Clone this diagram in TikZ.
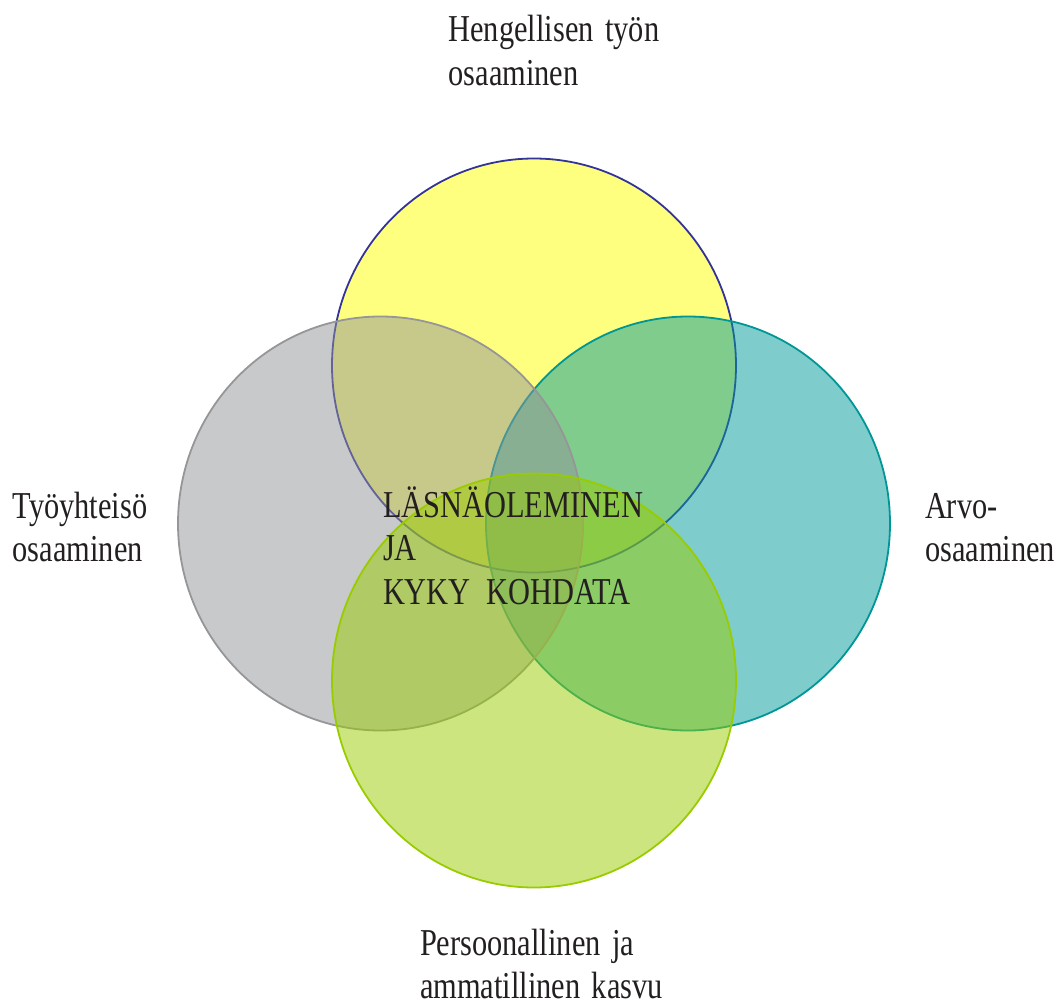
\documentclass[tikz,border=0pt]{standalone}
\usepackage{fontspec}
\setmainfont{Liberation Serif}[FakeStretch=0.8]
\usetikzlibrary{shapes.geometric}
\definecolor{txt}{RGB}{35,31,32}
\definecolor{fyellow}{RGB}{255,255,0}
\definecolor{syellow}{RGB}{51,51,153}
\definecolor{fteal}{RGB}{0,153,153}
\definecolor{steal}{RGB}{0,150,150}
\definecolor{fgray}{RGB}{145,147,151}
\definecolor{sgray}{RGB}{150,150,152}
\definecolor{fgreen}{RGB}{153,204,0}
\definecolor{sgreen}{RGB}{153,204,0}
\newcommand\lblfont{\fontsize{38}{43.5}\selectfont\spaceskip 11.5pt\relax}
\tikzset{
  ring/.style={ellipse, inner sep=0pt, minimum width=404pt, minimum height=414pt,
    line width=1.8pt, fill opacity=0.5, draw opacity=1},
  lbl/.style={anchor=base west, inner sep=0pt, outer sep=0pt, align=left, text=txt,
    font=\lblfont}
}
\begin{document}
\begin{tikzpicture}[x=1pt,y=-1pt]
\useasboundingbox (0,0) rectangle (1061,1001);
\node[ring, fill=fyellow, draw=syellow] (top) at (534,365.5) {};
\node[ring, fill=fteal, draw=steal] (right) at (688,523.5) {};
\node[ring, fill=fgray, draw=sgray, minimum width=405pt] (left) at (380.5,523.5) {};
\node[ring, fill=fgreen, draw=sgreen] (bottom) at (534,680.5) {};
\node[lbl] (ltop) at (448.5,85) {Hengellisen työn\\osaaminen};
\node[lbl] (lleft) at (12.7,561.7) {Työyhteisö\\osaaminen};
\node[lbl] (lright) at (925,561.7) {Arvo-\\osaaminen};
\node[lbl] (lbottom) at (420,998.5) {Persoonallinen ja\\ammatillinen kasvu};
\node[lbl] (lcenter) at (383,604) {LÄSNÄOLEMINEN\\JA\\KYKY\hspace{4pt} KOHDATA};
\end{tikzpicture}
\end{document}
